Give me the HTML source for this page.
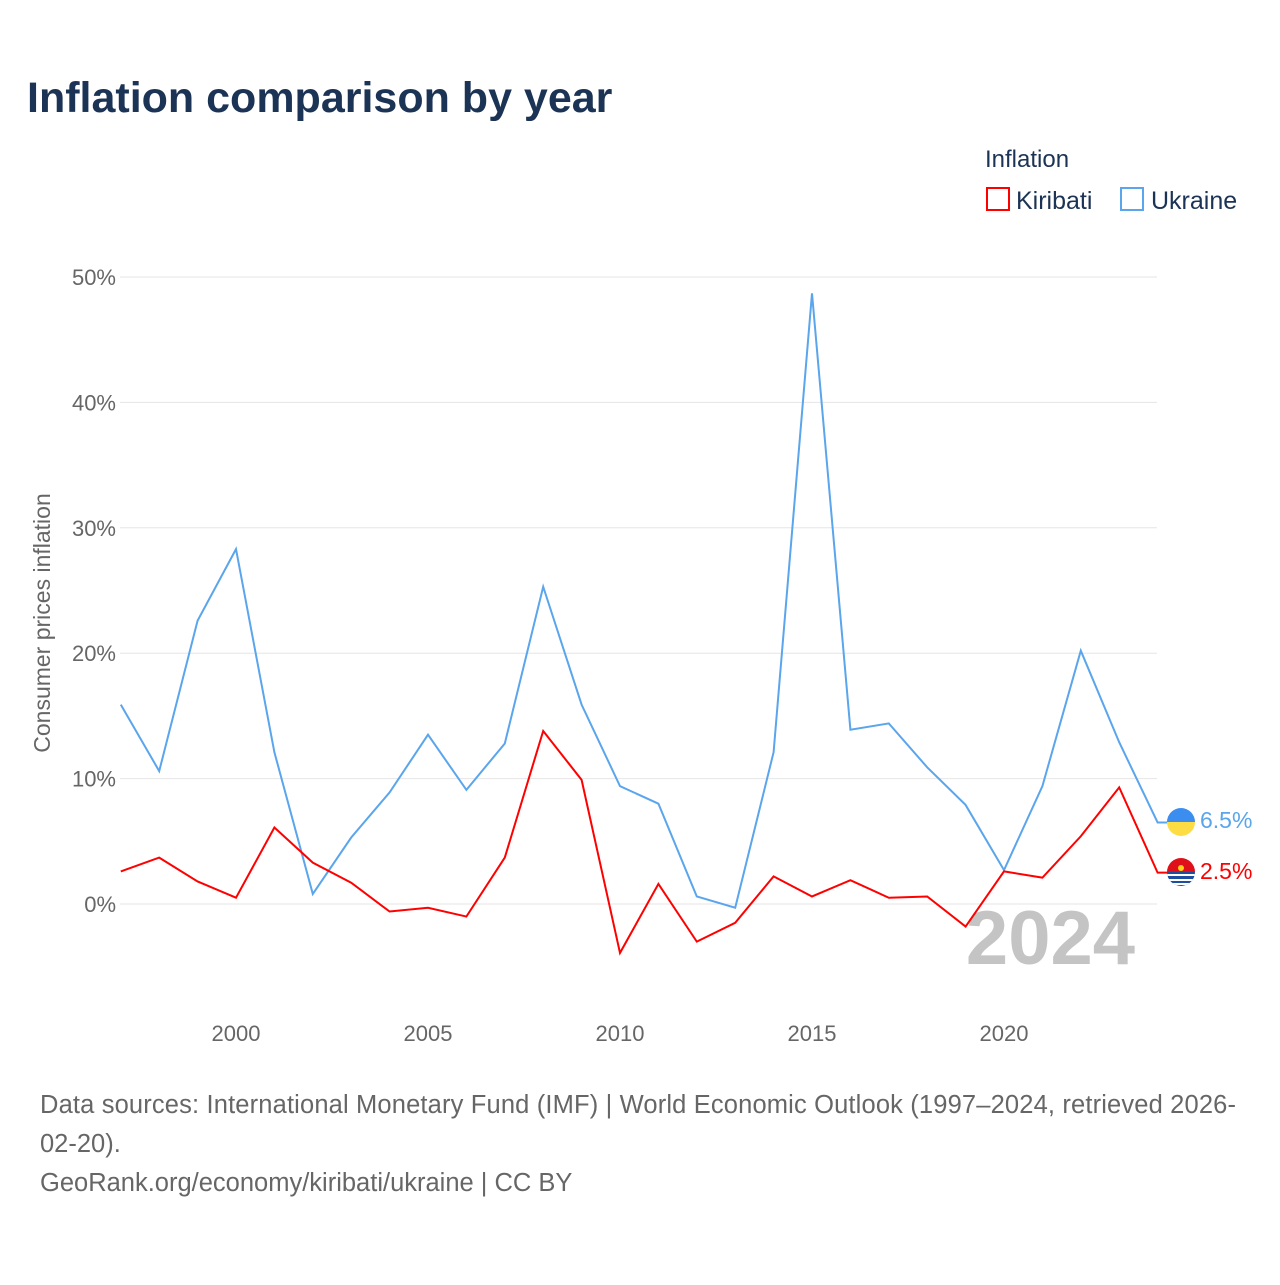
<!DOCTYPE html>
<html><head><meta charset="utf-8"><style>
body{margin:0;background:#fff;font-family:"Liberation Sans",sans-serif;}
svg text{font-family:"Liberation Sans",sans-serif;}
</style></head><body>
<svg width="1280" height="1280" id="chart">
<text x="27" y="112" font-size="43" font-weight="bold" fill="#1b3354">Inflation comparison by year</text>
<text x="985" y="167" font-size="24" fill="#1b3354">Inflation</text>
<g><rect x="987" y="188" width="22" height="22" fill="none" stroke="#ff0000" stroke-width="2"/><text x="1016" y="209" font-size="25" fill="#1b3354">Kiribati</text></g>
<g><rect x="1121" y="188" width="22" height="22" fill="none" stroke="#5aa5ec" stroke-width="2"/><text x="1151" y="209" font-size="25" fill="#1b3354">Ukraine</text></g>
<text transform="translate(50,623) rotate(-90)" text-anchor="middle" font-size="23" fill="#666">Consumer prices inflation</text>
<g id="grid"></g><g id="xt"></g>
<text x="1135" y="964" text-anchor="end" font-size="76" font-weight="bold" fill="#c4c4c4">2024</text>
<g id="lines"></g>
<g><clipPath id="cu"><circle cx="1181" cy="822" r="14"/></clipPath><g clip-path="url(#cu)"><rect x="1167" y="808" width="28" height="14" fill="#3b8ef0"/><rect x="1167" y="822" width="28" height="14" fill="#fddc44"/></g></g>
<g><clipPath id="ck"><circle cx="1181" cy="872" r="14"/></clipPath><g clip-path="url(#ck)"><rect x="1167" y="858" width="28" height="14" fill="#e0101a"/><rect x="1167" y="872" width="28" height="14" fill="#1d4fa0"/><path d="M1167 875 h28 M1167 880 h28 M1167 884 h28" stroke="#fff" stroke-width="2"/><circle cx="1181" cy="868" r="3" fill="#fcd116"/></g></g>
<text x="1200" y="828" font-size="23" fill="#5aa5ec">6.5%</text>
<text x="1200" y="879" font-size="23" fill="#ff0000">2.5%</text>
<text x="40" y="1113" font-size="25.5" letter-spacing="0.15" fill="#666">Data sources: International Monetary Fund (IMF) | World Economic Outlook (1997–2024, retrieved 2026-</text>
<text x="40" y="1152" font-size="25.5" fill="#666">02-20).</text>
<text x="40" y="1191" font-size="25.5" fill="#666">GeoRank.org/economy/kiribati/ukraine | CC BY</text>
</svg>
<script>
const years=[1997,1998,1999,2000,2001,2002,2003,2004,2005,2006,2007,2008,2009,2010,2011,2012,2013,2014,2015,2016,2017,2018,2019,2020,2021,2022,2023,2024];
const ukraine=[15.9,10.6,22.6,28.3,12.1,0.8,5.3,8.9,13.5,9.1,12.8,25.3,15.9,9.4,8.0,0.6,-0.3,12.1,48.7,13.9,14.4,10.9,7.9,2.7,9.4,20.2,12.9,6.5];
const kiribati=[2.6,3.7,1.8,0.5,6.1,3.3,1.7,-0.6,-0.3,-1.0,3.7,13.8,9.9,-3.9,1.6,-3.0,-1.5,2.2,0.6,1.9,0.5,0.6,-1.8,2.6,2.1,5.4,9.3,2.5];
const yTicks=[0,10,20,30,40,50];
const xTicks=[2000,2005,2010,2015,2020];
const NS="http://www.w3.org/2000/svg";
const X=y=>120.8+(y-1997)*38.4;
const Y=v=>904-v*12.54;
const grid=document.getElementById('grid'),xt=document.getElementById('xt'),lines=document.getElementById('lines');
yTicks.forEach(t=>{
 const l=document.createElementNS(NS,'line');
 l.setAttribute('x1',120);l.setAttribute('x2',1157);l.setAttribute('y1',Y(t));l.setAttribute('y2',Y(t));
 l.setAttribute('stroke','#e6e6e6');
 
 
 grid.appendChild(l);
 const s=document.createElementNS(NS,'text');
 s.setAttribute('x',116);s.setAttribute('y',Y(t)+8);s.setAttribute('text-anchor','end');
 s.setAttribute('font-size','22');s.setAttribute('fill','#666');s.textContent=t+'%';
 
 
 grid.appendChild(s);
});
xTicks.forEach(t=>{
 const s=document.createElementNS(NS,'text');
 s.setAttribute('x',X(t));s.setAttribute('y',1041);s.setAttribute('text-anchor','middle');
 s.setAttribute('font-size','22');s.setAttribute('fill','#666');s.textContent=t;
 
 
 xt.appendChild(s);
});
function line(vals,color,name){
 const p=document.createElementNS(NS,'path');
 let d=vals.map((v,i)=>(i?'L':'M')+X(years[i])+' '+Y(v)).join(' ');
 d+=' h11';
 p.setAttribute('d',d);p.setAttribute('fill','none');p.setAttribute('stroke',color);p.setAttribute('stroke-width','2');
 
 
 lines.appendChild(p);
}
line(ukraine,'#5aa5ec','ukraine-line');
line(kiribati,'#ff0000','kiribati-line');
</script>
</body></html>
